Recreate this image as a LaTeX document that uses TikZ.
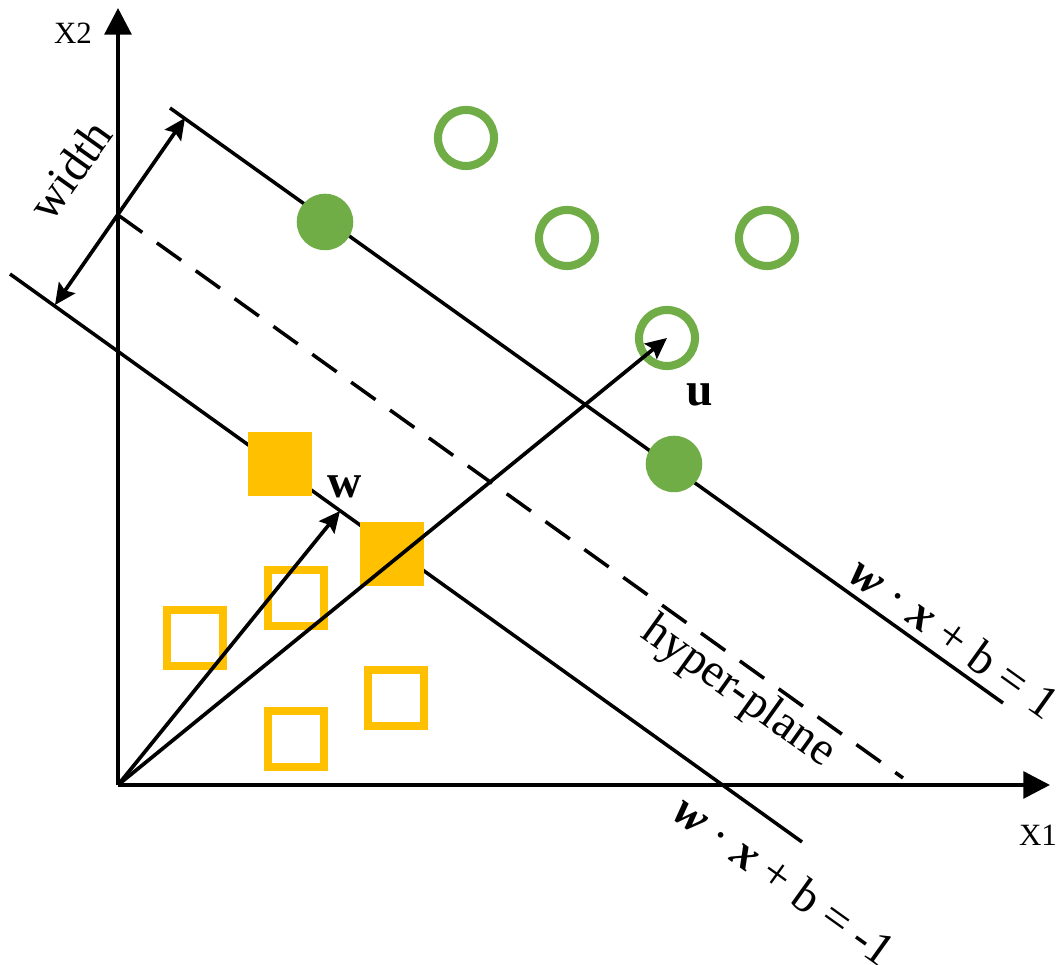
\documentclass[tikz,border=0pt]{standalone}
\usepackage{fontspec}
\setmainfont{Liberation Serif}
\usetikzlibrary{arrows.meta}
\definecolor{sgreen}{HTML}{70AD47}
\definecolor{sgold}{HTML}{FFC000}
\begin{document}
\begin{tikzpicture}[x=0.01cm,y=-0.01cm,
  axis/.style={line width=1.15pt,-{Triangle[length=7.6pt,width=7.6pt]}},
  marginline/.style={line width=1pt},
  hyper/.style={line width=1pt,dash pattern=on 8.5pt off 5.1pt},
  vec/.style={line width=1.05pt,-{Stealth[length=6pt,width=5.6pt,inset=1pt]}},
  widtharrow/.style={line width=1.05pt,{Stealth[length=6pt,width=5.6pt,inset=1pt]}-{Stealth[length=6pt,width=5.6pt,inset=1pt]}},
  opencirc/.style={circle,draw=sgreen,line width=2.3pt,minimum size=0.56cm,inner sep=0pt},
  fillcirc/.style={circle,fill=sgreen,minimum size=0.565cm,inner sep=0pt},
  opensq/.style={rectangle,draw=sgold,line width=2.3pt,minimum size=0.56cm,inner sep=0pt},
  fillsq/.style={rectangle,fill=sgold,minimum size=0.645cm,inner sep=0pt},
  lbl/.style={font=\fontsize{13.5}{16}\selectfont,inner sep=0pt},
  axlbl/.style={font=\fontsize{8.8}{10}\selectfont,inner sep=0pt}
]
\useasboundingbox (0,0) rectangle (1059,965);

% axes
\coordinate (O) at (118,785);
\coordinate (XE) at (1050,785);
\coordinate (YE) at (118,8);
\draw[axis] (O) -- (XE);
\draw[axis] (O) -- (YE);
\node[axlbl] (x1lbl) at (1038,835) {X1};
\node[axlbl] (x2lbl) at (73,33) {X2};

% margin lines and hyperplane
\coordinate (pa) at (170,108);
\coordinate (pb) at (1003,703);
\coordinate (ma) at (10,274);
\coordinate (mb) at (802,842);
\coordinate (ha) at (118,215);
\coordinate (hb) at (903,778);
\draw[marginline] (pa) -- (pb);
\draw[marginline] (ma) -- (mb);
\draw[hyper] (ha) -- (hb);

% width arrow
\coordinate (wa) at (55,305);
\coordinate (wb) at (185,118);
\draw[widtharrow] (wa) -- (wb);
\node[lbl,rotate=54.5] (widthlbl) at (70,170) {width};

% green circles
\node[fillcirc] (g1) at (325,222) {};
\node[fillcirc] (g2) at (674,464) {};
\node[opencirc] (c1) at (466,138) {};
\node[opencirc] (c2) at (567,238) {};
\node[opencirc] (c3) at (767,238) {};
\node[opencirc] (c4) at (667,338) {};

% gold squares
\node[fillsq] (s1) at (280,464) {};
\node[fillsq] (s2) at (392,554) {};
\node[opensq] (q1) at (195,638) {};
\node[opensq] (q2) at (296,598) {};
\node[opensq] (q3) at (396,698) {};
\node[opensq] (q4) at (296,739) {};

% vectors
\coordinate (wt) at (340,511);
\draw[vec] (O) -- (wt);
\draw[vec] (O) -- (c4.center);
\node[lbl,font=\fontsize{13.5}{16}\selectfont\bfseries] (wlbl) at (345,487) {w};
\node[lbl,font=\fontsize{13.5}{16}\selectfont\bfseries] (ulbl) at (700,395) {u};

% line labels
\node[lbl,rotate=-35.6] (plbl) at (955,637) {\textbf{\textit{w}} · \textbf{\textit{x}} + b = 1};
\node[lbl,rotate=-35.6] (hlbl) at (738,693) {hyper-plane};
\node[lbl,rotate=-35.6] (mlbl) at (785,880) {\textbf{\textit{w}} · \textbf{\textit{x}} + b = -1};
\end{tikzpicture}
\end{document}
